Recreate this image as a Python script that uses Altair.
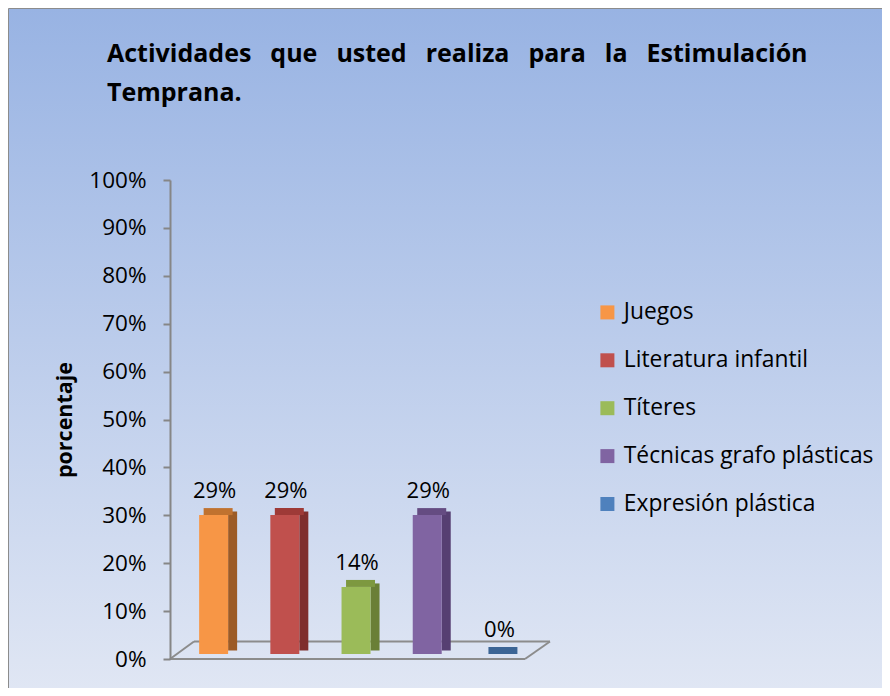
import altair as alt
import pandas as pd

categories = ["Juegos", "Literatura infantil", "Títeres", "Técnicas grafo plásticas", "Expresión plástica"]
values = [0.29, 0.29, 0.14, 0.29, 0.0]
labels = ["29%", "29%", "14%", "29%", "0%"]
front_colors = ["#F79646", "#C0504D", "#9BBB59", "#8064A2", "#4F81BD"]
side_colors = ["#9C5B26", "#7F2E2D", "#6A7F37", "#563F72", "#2F4F78"]
top_colors = ["#C0722F", "#9E3A37", "#7D9840", "#654C82", "#3C6595"]
y_ticks = [0, 0.1, 0.2, 0.3, 0.4, 0.5, 0.6, 0.7, 0.8, 0.9, 1.0]
title_words = ["Actividades", "que", "usted", "realiza", "para", "la", "Estimulación"]
title_line2 = "Temprana."

FONT = "Open Sans"

df = pd.DataFrame({
    "cat": categories,
    "val": values,
    "zero": [0.0] * len(values),
    "label": labels,
    "side": side_colors,
    "topc": top_colors,
})

W, H = 380, 479

xenc = alt.X("cat:N", sort=categories, axis=None,
             scale=alt.Scale(paddingInner=0.593, paddingOuter=0.465, align=0.44))
yscale = alt.Scale(domain=[0, 1], nice=False)
yaxis = alt.Axis(values=y_ticks, format=".0%", grid=False, zindex=1,
                 labelFontSize=22.5, labelFont=FONT, labelColor="#000000",
                 labelPadding=17, tickSize=7, tickColor="#868686",
                 domainColor="#868686", domainWidth=2, tickWidth=2,
                 title="porcentaje", titleFont=FONT, titleFontSize=21.5,
                 titleFontWeight="bold", titleColor="#000000",
                 titleX=-105, titleY=H / 2, titleAngle=-90,
                 titleAlign="center", titleBaseline="middle")
yenc = alt.Y("val:Q", scale=yscale, axis=yaxis)

bg = alt.Chart(pd.DataFrame({"a": [0]})).mark_rect(
    fill=alt.Gradient(
        gradient="linear", x1=0, y1=0, x2=0, y2=1,
        stops=[alt.GradientStop(color="#98b3e3", offset=0),
               alt.GradientStop(color="#e1e7f4", offset=1)],
    ),
    stroke="#8c8c8c", strokeWidth=1,
).encode(x=alt.value(-161.5), x2=alt.value(720), y=alt.value(-171.5), y2=alt.value(520))

floor_df = pd.DataFrame({"a": [0]})
floor_front = alt.Chart(floor_df).mark_rule(color="#8c8c8c", strokeWidth=2).encode(
    x=alt.value(0), x2=alt.value(355), y=alt.value(H), y2=alt.value(H))
floor_back = alt.Chart(floor_df).mark_rule(color="#8c8c8c", strokeWidth=2).encode(
    x=alt.value(24), x2=alt.value(380), y=alt.value(H - 17.5), y2=alt.value(H - 17.5))
floor_left = alt.Chart(floor_df).mark_rule(color="#8c8c8c", strokeWidth=2).encode(
    x=alt.value(0), x2=alt.value(24), y=alt.value(H), y2=alt.value(H - 17.5))
floor_right = alt.Chart(floor_df).mark_rule(color="#8c8c8c", strokeWidth=2).encode(
    x=alt.value(355), x2=alt.value(380), y=alt.value(H), y2=alt.value(H - 17.5))

base = alt.Chart(df)

side = base.mark_bar(width=9, xOffset=19, yOffset=-8.5, y2Offset=-8.5).encode(
    x=xenc,
    y=yenc,
    y2="zero:Q",
    fill=alt.Fill("side:N", scale=None),
)

top = base.mark_bar(xOffset=4.5, yOffset=-12, y2Offset=-5).encode(
    x=xenc,
    y=yenc,
    y2="val:Q",
    fill=alt.Fill("topc:N", scale=None),
)

front = base.mark_bar(yOffset=-5, y2Offset=-5).encode(
    x=xenc,
    y=yenc,
    y2="zero:Q",
    color=alt.Color("cat:N", sort=categories,
                    scale=alt.Scale(domain=categories, range=front_colors),
                    legend=alt.Legend(title=None, orient="none", legendX=426, legendY=121,
                                      labelFont=FONT, labelFontSize=22.8, labelColor="#000000",
                                      labelLimit=500,
                                      symbolType="square", symbolSize=196,
                                      symbolStrokeWidth=0, symbolOpacity=1,
                                      labelOffset=5, rowPadding=23.9, padding=0)),
)

text = base.mark_text(dy=-22, dx=1, baseline="alphabetic", fontSize=22, font=FONT,
                      color="#000000").encode(
    x=xenc,
    y=yenc,
    text="label:N",
)

# justified-looking first line: widen the gaps between words
line1 = "\u2002 ".join(title_words)

chart = alt.layer(
    bg, floor_back, floor_left, floor_right, floor_front, side, top, front, text
).properties(
    width=W, height=H,
    autosize=alt.AutoSizeParams(type="none"),
    padding={"left": 162, "top": 172, "right": 332, "bottom": 29},
    title=alt.TitleParams(
        text=[line1, title_line2],
        anchor="start", frame="group", orient="top",
        font=FONT, fontSize=25, fontWeight="bold", color="#000000",
        baseline="alphabetic", lineHeight=39, offset=0, dx=-63, dy=117.5,
    ),
).configure_view(stroke=None).configure(background="white")

chart.save("out.html", embed_options={"renderer": "svg", "actions": False})
